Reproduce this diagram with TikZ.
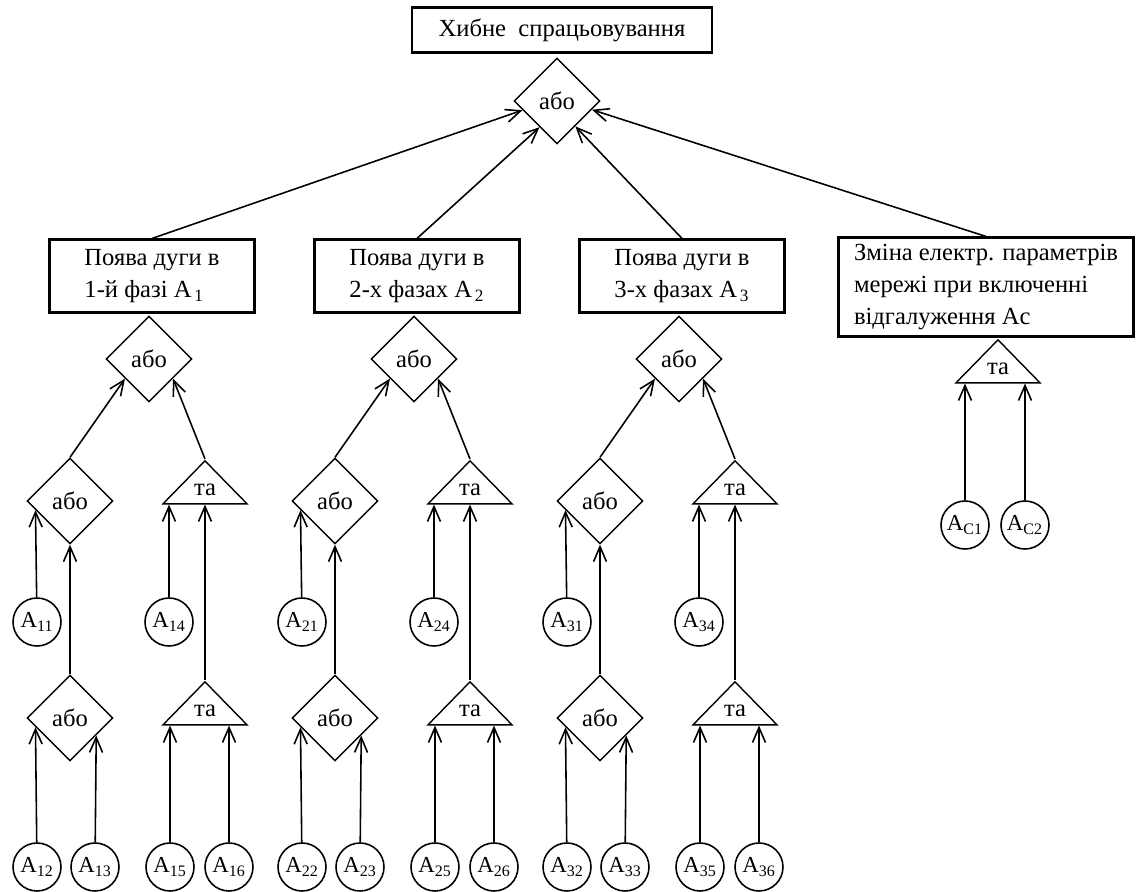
\documentclass[tikz,border=0pt]{standalone}
\usepackage{fontspec}
\setmainfont{Liberation Serif}
\usetikzlibrary{shapes.geometric, arrows.meta, calc}

\begin{document}
\begin{tikzpicture}[x=0.02cm, y=-0.02cm, font=\fontsize{14}{18}\selectfont,
  b/.style={rectangle, draw, line width=1.2pt, align=left, inner sep=2pt},
  g/.style={diamond, draw, line width=0.8pt, minimum width=1.72cm,
            minimum height=1.72cm, inner sep=0pt},
  t/.style={isosceles triangle, isosceles triangle stretches,
            shape border rotate=90, draw, line width=0.8pt, minimum width=1.68cm,
            minimum height=0.86cm, inner sep=0pt, anchor=apex},
  c/.style={circle, draw, line width=0.9pt, minimum size=0.96cm, inner sep=0pt,
            font=\fontsize{13}{15}\selectfont},
  a/.style={-{Straight Barb[length=3mm, width=2.6mm]}, line width=0.9pt}]
  \useasboundingbox (0,0) rectangle (1136,892);
  % top event
  \node[b, minimum width=6cm, minimum height=0.9cm] (top) at (562,30) {Хибне\ \ спрацьовування};
  \node[g] (or0) at (557,101) {або};
  % three arc branches
  \foreach \i/\o/\t in {1/0/1-й фазі, 2/265/2-х фазах, 3/530/3-х фазах} {
    \node[b, minimum width=4.1cm, minimum height=1.46cm] (box\i) at (152+\o,276)
      {Поява дуги в\\\t\ A\textsubscript{\,\i}};
    \node[g] (or\i) at (149+\o,359) {або};
    \node[g] (ora\i) at (70+\o,501) {або};
    \node[t] (and\i) at (205+\o,459) {та};
    \node[c] (a\i1) at (37+\o,622) {A\textsubscript{\i1}};
    \node[c] (a\i4) at (169+\o,622) {A\textsubscript{\i4}};
    \node[g] (orb\i) at (70+\o,718) {або};
    \node[t] (andb\i) at (205+\o,680) {та};
    \node[c] (a\i2) at (37+\o,867) {A\textsubscript{\i2}};
    \node[c] (a\i3) at (95+\o,867) {A\textsubscript{\i3}};
    \node[c] (a\i5) at (170+\o,867) {A\textsubscript{\i5}};
    \node[c] (a\i6) at (229+\o,867) {A\textsubscript{\i6}};
    \draw[a] (ora\i.north) -- ($(or\i.west)!0.45!(or\i.south)$);
    \draw[a] (and\i.apex) -- ($(or\i.south)!0.55!(or\i.east)$);
    \draw[a] (a\i1) -- ($(ora\i.west)!0.21!(ora\i.south)$);
    \draw[a] (orb\i.north) -- (ora\i.south);
    \draw[a] (a\i2) -- ($(orb\i.west)!0.21!(orb\i.south)$);
    \draw[a] (a\i3) -- ($(orb\i.south)!0.6!(orb\i.east)$);
    \draw[a] (a\i4) -- (a\i4 |- and\i.left corner);
    \draw[a] (andb\i.apex) -- (andb\i.apex |- and\i.left corner);
    \draw[a] (a\i5) -- (a\i5 |- andb\i.left corner);
    \draw[a] (a\i6) -- (a\i6 |- andb\i.left corner);
  }
  % branching change
  \node[b, minimum width=5.9cm, minimum height=1.98cm] (box4) at (986,287)
    {Зміна електр. параметрів\\мережі при включенні\\відгалуження Ac};
  \node[t] (andc) at (998,338) {та};
  \node[c] (ac1) at (965,525) {A\textsubscript{C1}};
  \node[c] (ac2) at (1025,525) {A\textsubscript{C2}};
  \draw[a] (ac1) -- (ac1 |- andc.left corner);
  \draw[a] (ac2) -- (ac2 |- andc.left corner);
  % into the top gate
  \draw[a] (box1.north) -- ($(or0.west)!0.21!(or0.south)$);
  \draw[a] (box2.north) -- ($(or0.west)!0.6!(or0.south)$);
  \draw[a] (box3.north) -- ($(or0.south)!0.42!(or0.east)$);
  \draw[a] (box4.north) -- ($(or0.south)!0.8!(or0.east)$);
\end{tikzpicture}
\end{document}
